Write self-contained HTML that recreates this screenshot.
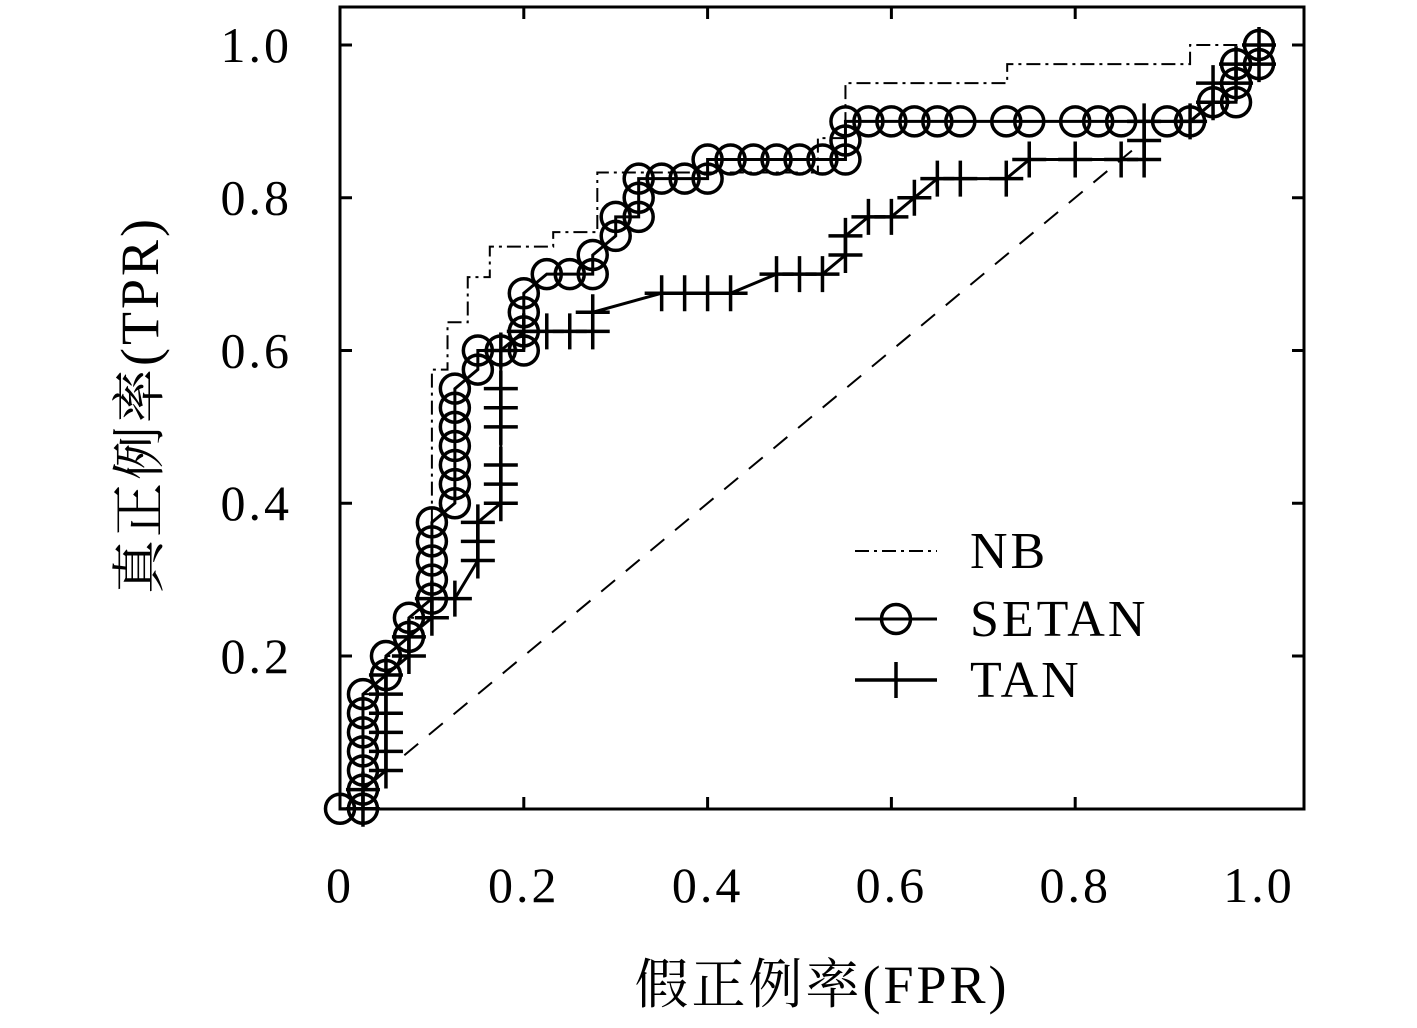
<!DOCTYPE html>
<html><head><meta charset="utf-8"><style>
body{margin:0;background:#fff}
svg text{font-family:"Liberation Serif","Noto Serif CJK SC",serif;fill:#000}
</style></head><body>
<svg id="chart" width="1417" height="1023" xmlns="http://www.w3.org/2000/svg">
<g id="g"></g>
</svg>
<script>
const xTicks=[0,0.2,0.4,0.6,0.8,1.0];
const xTickLabels=["0","0.2","0.4","0.6","0.8","1.0"];
const yTicks=[0.2,0.4,0.6,0.8,1.0];
const yTickLabels=["0.2","0.4","0.6","0.8","1.0"];
const fprNB=[0,0.025,0.025,0.05,0.05,0.075,0.075,0.1,0.1,0.117,0.117,0.139,0.139,0.163,0.163,0.232,0.232,0.28,0.28,0.52,0.52,0.55,0.55,0.726,0.726,0.925,0.925,1];
const tprNB=[0,0,0.15,0.15,0.2,0.2,0.25,0.25,0.575,0.575,0.637,0.637,0.696,0.696,0.736,0.736,0.755,0.755,0.833,0.833,0.878,0.878,0.95,0.95,0.975,0.975,1,1];
const fprSETAN=[0,0.025,0.025,0.025,0.025,0.025,0.025,0.025,0.05,0.05,0.075,0.075,0.1,0.1,0.1,0.1,0.1,0.125,0.125,0.125,0.125,0.125,0.125,0.125,0.15,0.15,0.175,0.2,0.2,0.2,0.2,0.225,0.25,0.275,0.275,0.3,0.3,0.325,0.325,0.325,0.35,0.375,0.4,0.4,0.425,0.45,0.475,0.5,0.525,0.55,0.55,0.55,0.575,0.6,0.625,0.65,0.675,0.725,0.75,0.8,0.825,0.85,0.9,0.925,0.95,0.975,0.975,0.975,1,1];
const tprSETAN=[0,0,0.025,0.05,0.075,0.1,0.125,0.15,0.175,0.2,0.225,0.25,0.275,0.3,0.325,0.35,0.375,0.4,0.425,0.45,0.475,0.5,0.525,0.55,0.575,0.6,0.6,0.6,0.625,0.65,0.675,0.7,0.7,0.7,0.725,0.75,0.775,0.775,0.8,0.825,0.825,0.825,0.825,0.85,0.85,0.85,0.85,0.85,0.85,0.85,0.875,0.9,0.9,0.9,0.9,0.9,0.9,0.9,0.9,0.9,0.9,0.9,0.9,0.9,0.925,0.925,0.95,0.975,0.975,1];
const fprTAN=[0.025,0.025,0.05,0.05,0.05,0.05,0.05,0.05,0.075,0.075,0.1,0.1,0.125,0.15,0.15,0.15,0.175,0.175,0.175,0.175,0.175,0.175,0.175,0.2,0.225,0.25,0.275,0.275,0.35,0.375,0.4,0.425,0.475,0.5,0.525,0.55,0.55,0.575,0.6,0.625,0.65,0.675,0.725,0.75,0.8,0.85,0.875,0.875,0.875,0.925,0.95,0.95,0.975,0.975,1,1];
const tprTAN=[0,0.025,0.05,0.075,0.1,0.125,0.15,0.175,0.2,0.225,0.25,0.275,0.275,0.325,0.35,0.375,0.4,0.425,0.45,0.5,0.525,0.55,0.6,0.625,0.625,0.625,0.625,0.65,0.675,0.675,0.675,0.675,0.7,0.7,0.7,0.725,0.75,0.775,0.775,0.8,0.825,0.825,0.825,0.85,0.85,0.85,0.85,0.875,0.9,0.9,0.925,0.95,0.95,0.975,0.975,1];
const diag=[0.07,0.87];

const L=340,R=1304,T=7,B=809,X0=340,X1=1259,Y0=808.7,Y1=45;
const sx=v=>X0+v*(X1-X0), sy=v=>Y0-v*(Y0-Y1);
const g=document.getElementById('g');
const NS='http://www.w3.org/2000/svg';
function mk(tag,attrs,parent){const e=document.createElementNS(NS,tag);for(const k in attrs)e.setAttribute(k,attrs[k]);(parent||g).appendChild(e);return e;}
let fr=mk('rect',{x:L,y:T,width:R-L,height:B-T,fill:'none',stroke:'#000','stroke-width':3});


xTicks.forEach((v,i)=>{
  const x=sx(v);
  if(v>0&&v<1){let t=mk('path',{d:`M${x},${B}v-12M${x},${T}v12`,stroke:'#000','stroke-width':3});
  
  }
  let tx=mk('text',{x:x,y:902,'font-size':50,'letter-spacing':3,'text-anchor':'middle'});tx.textContent=xTickLabels[i];
  
  
});
yTicks.forEach((v,i)=>{
  const y=sy(v);
  let t=mk('path',{d:`M${L},${y}h12M${R},${y}h-12`,stroke:'#000','stroke-width':3});
  
  
  let tx=mk('text',{x:292,y:y+17,'font-size':50,'letter-spacing':3,'text-anchor':'end'});tx.textContent=yTickLabels[i];
  
  
});
let xt=mk('text',{x:822,y:1003,'font-size':54,'letter-spacing':3,'text-anchor':'middle'});xt.textContent='假正例率(FPR)';


let yt=mk('text',{x:0,y:0,'font-size':54,'letter-spacing':3,'text-anchor':'middle',transform:'translate(158,405) rotate(-90)'});yt.textContent='真正例率(TPR)';


let dg=mk('line',{x1:sx(diag[0]),y1:sy(diag[0]),x2:sx(diag[1]),y2:sy(diag[1]),stroke:'#000','stroke-width':2,'stroke-dasharray':'18,14'});


function pts(xs,ys){return xs.map((x,i)=>sx(x)+','+sy(ys[i])).join(' ');}
let nb=mk('polyline',{points:pts(fprNB,tprNB),fill:'none',stroke:'#000','stroke-width':2,'stroke-dasharray':'14,5,3,5'});


let sl=mk('polyline',{points:pts(fprSETAN,tprSETAN),fill:'none',stroke:'#000','stroke-width':3});


let tl=mk('polyline',{points:pts(fprTAN,tprTAN),fill:'none',stroke:'#000','stroke-width':3});


fprSETAN.forEach((x,i)=>{
  let c=mk('circle',{cx:sx(x),cy:sy(tprSETAN[i]),r:14.5,fill:'none',stroke:'#000','stroke-width':3.5});
  
  
});
fprTAN.forEach((x,i)=>{
  const cx=sx(x),cy=sy(tprTAN[i]);
  let p=mk('path',{d:`M${cx-17},${cy}h34M${cx},${cy-18}v36`,stroke:'#000','stroke-width':3.5});
  
  
});
const lg=mk('g',{});


let l1=mk('line',{x1:855,y1:551,x2:937,y2:551,stroke:'#000','stroke-width':2,'stroke-dasharray':'14,5,3,5'},lg);


let l2=mk('line',{x1:855,y1:619,x2:937,y2:619,stroke:'#000','stroke-width':3},lg);


let l2c=mk('circle',{cx:896,cy:619,r:14.5,fill:'none',stroke:'#000','stroke-width':3.5},lg);


let l3=mk('path',{d:'M855,680h82M896,662v36',stroke:'#000','stroke-width':3.5},lg);


[['NB',568],['SETAN',636],['TAN',697]].forEach(([s,y])=>{
  let t=mk('text',{x:970,y:y,'font-size':52,'letter-spacing':3},lg);t.textContent=s;
  
  
});
</script>
</body></html>
